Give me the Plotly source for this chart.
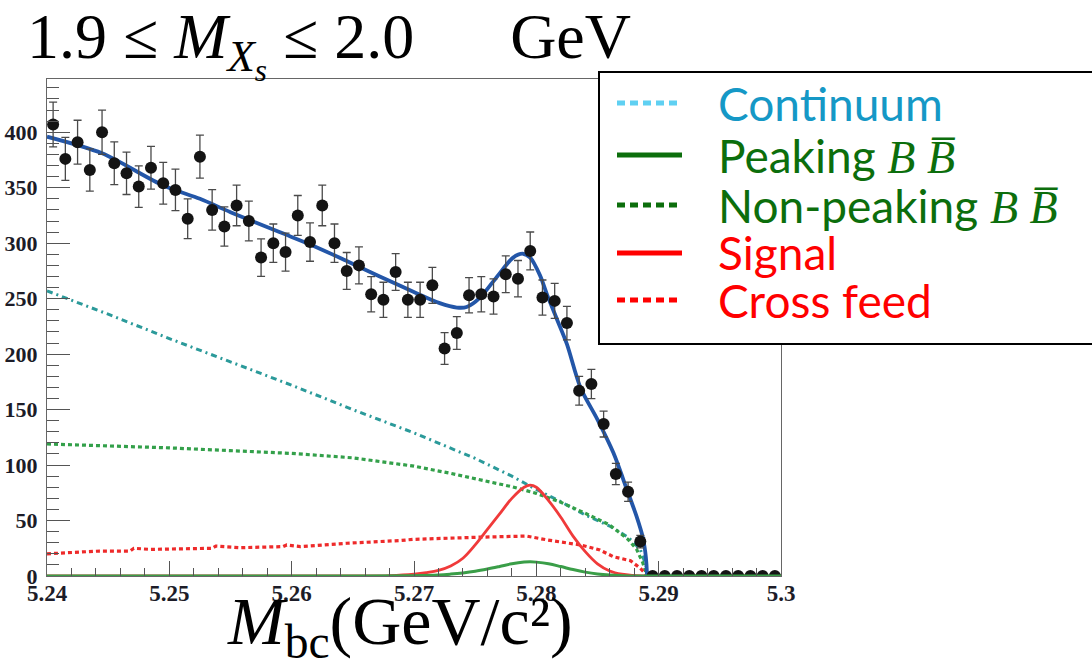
import numpy as np
import plotly.graph_objects as go

# ---------------- histogram of M_bc (1 MeV bins) ----------------
bin_lo, bin_hi, n_bins = 5.24, 5.30, 60
counts = [407, 376, 391, 366, 400, 372, 363, 351, 368, 354,
          348, 322, 378, 330, 315, 334, 320, 287, 300, 292,
          325, 301, 334, 300, 275, 280, 254, 249, 274, 249,
          249, 262, 205, 219, 253, 254, 252, 272, 268, 293,
          251, 248, 228, 167, 173, 137, 92, 76, 31, 0,
          0, 0, 0, 0, 0, 0, 0, 0, 0, 0]
count_err = [20.2, 19.4, 19.8, 19.1, 20.0, 19.3, 19.1, 18.7, 19.2, 18.8,
             18.7, 17.9, 19.4, 18.2, 17.7, 18.3, 17.9, 16.9, 17.3, 17.1,
             18.0, 17.3, 18.3, 17.3, 16.6, 16.7, 15.9, 15.8, 16.6, 15.8,
             15.8, 16.2, 14.3, 14.8, 15.9, 15.9, 15.9, 16.5, 16.4, 17.1,
             15.8, 15.7, 15.1, 12.9, 13.2, 11.7, 9.6, 8.7, 5.6, 0,
             0, 0, 0, 0, 0, 0, 0, 0, 0, 0]

# ---------------- fit components ----------------
total_x = [5.2400, 5.2445, 5.2495, 5.2525, 5.2550, 5.2590, 5.2617, 5.2645,
           5.2672, 5.2699, 5.2721, 5.2735, 5.2743, 5.2754, 5.2768, 5.2781,
           5.2789, 5.2795, 5.2803, 5.2809, 5.2817, 5.2825, 5.2836, 5.2850,
           5.2863, 5.2874, 5.2882, 5.2887, 5.2889, 5.2890, 5.28905]
total_y = [396, 381, 352, 340, 328, 310, 298, 284,
           270, 256.5, 246, 242, 242.5, 251, 270, 287,
           290.5, 287, 271, 253, 231, 209, 170, 141,
           111, 78, 53.5, 35, 22, 11, 0]

cont_x = [5.2400, 5.2450, 5.2500, 5.2550, 5.2600, 5.2650, 5.2700, 5.2750,
          5.2780, 5.2800, 5.2820, 5.2840, 5.2860, 5.2875, 5.2885, 5.2890,
          5.28905, 5.3000]
cont_y = [257, 236, 214, 193, 172, 150, 129, 106,
          90, 78, 67, 55, 45, 35, 24, 8,
          0, 0]

nonpk_x = [5.2400, 5.2450, 5.2500, 5.2550, 5.2600, 5.2650, 5.2700, 5.2730,
           5.2760, 5.2780, 5.2800, 5.2820, 5.2840, 5.2860, 5.2875, 5.2882,
           5.2887, 5.2890, 5.28905, 5.3000]
nonpk_y = [119, 117.5, 115.5, 113, 110.5, 106.5, 99, 92.5,
           85, 80.5, 74.5, 66.5, 56.5, 46, 33, 24,
           12, 3, 0, 0]

xfeed_x = [5.2400, 5.2419, 5.2443, 5.2468, 5.2471, 5.2484, 5.2525, 5.2535,
           5.2538, 5.2558, 5.2593, 5.2596, 5.2607, 5.2645, 5.2689, 5.2699,
           5.2754, 5.2792, 5.2809, 5.2836, 5.2852, 5.2863, 5.2877, 5.2885,
           5.2889, 5.2891, 5.3000]
xfeed_y = [20, 21, 22.5, 22.5, 25, 24, 25, 25,
           27, 25.5, 26.5, 28, 26.5, 29.5, 32, 33,
           35, 36, 32.5, 28, 23.4, 17.4, 13.8, 6.9,
           2.4, 0, 0]

signal_x = [5.2400, 5.2660, 5.2680, 5.2700, 5.2710, 5.2720, 5.2730, 5.2740,
            5.2750, 5.2760, 5.2770, 5.2780, 5.2790, 5.2795, 5.2800, 5.2810,
            5.2820, 5.2830, 5.2840, 5.2850, 5.2860, 5.2870, 5.2880, 5.2890]
signal_y = [0, 0, 0.4, 1.7, 3, 5, 9, 16,
            28, 42, 56, 70, 80, 82, 80, 68,
            53, 36, 22, 11, 4.5, 1.6, 0.5, 0]

peak_x = [5.2400, 5.2660, 5.2700, 5.2720, 5.2730, 5.2740, 5.2750, 5.2760,
          5.2770, 5.2780, 5.2790, 5.2795, 5.2800, 5.2810, 5.2820, 5.2830,
          5.2840, 5.2850, 5.2860, 5.2870, 5.2880, 5.3000]
peak_y = [0, 0, 0.3, 0.9, 1.7, 2.8, 4.3, 6.3,
          8.6, 11, 12.6, 12.9, 12.5, 11, 8.5, 5.8,
          3.5, 1.8, 0.8, 0.3, 0, 0]

x_tick_vals = [5.24, 5.25, 5.26, 5.27, 5.28, 5.29, 5.30]
x_tick_text = ["5.24", "5.25", "5.26", "5.27", "5.28", "5.29", "5.3"]

legend_labels = ["Continuum", "Peaking", "Non-peaking", "Signal", "Cross feed"]
bb_suffix = "<i>B B\u0305</i>"

# ---------------- layout geometry (pixels) ----------------
W, H = 1092, 669
L, R, T, B = 47, 781, 79, 576


def px_x(p):
    return (p - L) / (R - L)


def px_y(p):
    return (B - p) / (B - T)


centers = bin_lo + (np.arange(n_bins) + 0.5) * (bin_hi - bin_lo) / n_bins

fig = go.Figure()

fig.add_trace(go.Scatter(x=cont_x, y=cont_y, mode="lines",
                         line=dict(color="#2b9a9a", width=3, dash="6px,4px,2px,4px"),
                         showlegend=False))
fig.add_trace(go.Scatter(x=nonpk_x, y=nonpk_y, mode="lines",
                         line=dict(color="#33a04a", width=3.2, dash="4px,3px"),
                         showlegend=False))
fig.add_trace(go.Scatter(x=xfeed_x, y=xfeed_y, mode="lines",
                         line=dict(color="#ee2a2a", width=3.2, dash="4px,3px"),
                         showlegend=False))
fig.add_trace(go.Scatter(x=signal_x, y=signal_y, mode="lines", line_shape="spline",
                         line=dict(color="#f03a3a", width=2.8),
                         showlegend=False))
fig.add_trace(go.Scatter(x=total_x, y=total_y, mode="lines", line_shape="spline",
                         line=dict(color="#2356a8", width=3.8, smoothing=0.8),
                         showlegend=False))
fig.add_trace(go.Scatter(x=centers, y=counts, mode="markers",
                         marker=dict(color="#141414", size=12),
                         error_y=dict(type="data", array=count_err, visible=True,
                                      color="#4a4a4a", thickness=1.3, width=4),
                         showlegend=False))
fig.add_trace(go.Scatter(x=peak_x, y=peak_y, mode="lines", line_shape="spline",
                         line=dict(color="#3a9e48", width=3),
                         showlegend=False))

axis_font = dict(family="Liberation Serif", size=22, color="#1c1c28", weight="bold")

fig.update_xaxes(range=[bin_lo, bin_hi], showline=True, linecolor="#666",
                 linewidth=1.4, mirror=True, showgrid=False, zeroline=False,
                 automargin=False,
                 ticks="inside", ticklen=15, tickwidth=1.3, tickcolor="#555",
                 tickmode="array", tickvals=x_tick_vals, ticktext=x_tick_text,
                 ticklabelstandoff=-4,
                 minor=dict(tick0=5.24, dtick=0.002, ticks="inside", ticklen=8,
                            tickwidth=1.2, tickcolor="#555"),
                 tickfont=dict(axis_font, size=23))
fig.update_yaxes(range=[0, 448], showline=True, linecolor="#666",
                 linewidth=1.4, mirror=True, showgrid=False, zeroline=False,
                 automargin=False,
                 ticks="inside", ticklen=23, tickwidth=1.3, tickcolor="#555",
                 tick0=0, dtick=50, ticklabelstandoff=4,
                 minor=dict(tick0=0, dtick=10, ticks="inside", ticklen=12,
                            tickwidth=1.2, tickcolor="#555"),
                 tickfont=axis_font)

annotations = [
    dict(text="1.9 \u2264 <i>M</i><sub><i>X</i><sub><i>s</i></sub></sub> \u2264 2.0\u2003\u2002GeV",
         x=px_x(26), y=px_y(0), xref="paper", yref="paper", borderpad=0,
         xanchor="left", yanchor="top", showarrow=False,
         font=dict(family="Liberation Serif", size=64, color="#000")),
    dict(text="<i>M</i><sub>bc</sub>(GeV/c\u00b2)",
         x=px_x(400), y=px_y(669), xref="paper", yref="paper", borderpad=0,
         xanchor="center", yanchor="bottom", showarrow=False,
         font=dict(family="Liberation Serif", size=68, color="#000")),
]

shapes = [
    dict(type="rect", xref="paper", yref="paper",
         x0=px_x(599), x1=px_x(1096), y0=px_y(344), y1=px_y(72),
         line=dict(color="#000", width=2), fillcolor="#fff", layer="above"),
]

legend_rows = [
    (legend_labels[0], "#1598c6", "#5fd0f2", "dot", 103),
    (legend_labels[1] + " " + bb_suffix, "#0c6e0c", "#0c6e0c", "solid", 155),
    (legend_labels[2] + " " + bb_suffix, "#0c6e0c", "#0c6e0c", "dot", 205),
    (legend_labels[3], "#ff0000", "#ff0000", "solid", 253),
    (legend_labels[4], "#ff0000", "#ff0000", "dot", 300),
]
for label, tcolor, lcolor, style, ypx in legend_rows:
    if style == "solid":
        shapes.append(dict(type="line", xref="paper", yref="paper",
                           x0=px_x(617), x1=px_x(682), y0=px_y(ypx), y1=px_y(ypx),
                           line=dict(color=lcolor, width=5), layer="above"))
    else:
        shapes.append(dict(type="line", xref="paper", yref="paper",
                           x0=px_x(617), x1=px_x(680), y0=px_y(ypx), y1=px_y(ypx),
                           line=dict(color=lcolor, width=5, dash="8px,5px"), layer="above"))
    label = label.replace("<i>", "<span style='font-family:\"Liberation Serif\"'><i>").replace("</i>", "</i></span>")
    annotations.append(dict(text=label, x=px_x(716), y=px_y(ypx), xref="paper", yref="paper",
                            xanchor="left", yanchor="middle", showarrow=False,
                            font=dict(family="Lato", size=46, color=tcolor)))

fig.update_layout(width=W, height=H, autosize=False,
                  margin=dict(l=L, r=W - R, t=T, b=H - B, pad=0),
                  plot_bgcolor="#fff", paper_bgcolor="#fff",
                  annotations=annotations, shapes=shapes, showlegend=False)

fig.write_html("out.html")
